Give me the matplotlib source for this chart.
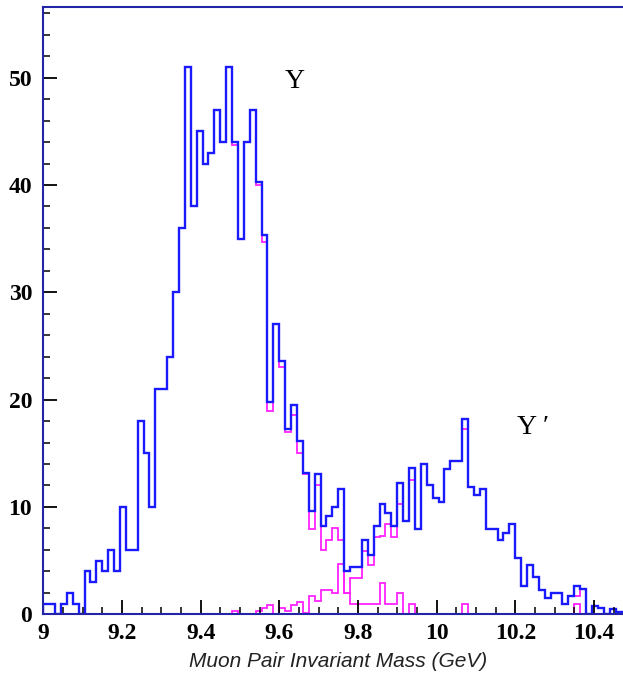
import matplotlib

matplotlib.use("Agg")
import matplotlib.pyplot as plt
import numpy as np
from matplotlib.ticker import MultipleLocator

# 100 bins of 15 MeV from 9.0 to 10.5 GeV
bin_lo, bin_hi, n_bins = 9.0, 10.5, 100

# blue: all muon pairs
total = [
    1, 1, 0, 1, 2, 1, 0, 4, 3, 5,
    4, 6, 4, 10, 6, 6, 18, 15, 10, 21,
    21, 24, 30, 36, 51, 38, 45, 42, 43, 47,
    44, 51, 44, 35, 44, 47, 40.3, 35.3, 19.8, 27,
    23.6, 17.3, 19.5, 16.1, 13.2, 9.6, 13.1, 8.2, 9.2, 10.0,
    11.7, 4.0, 4.4, 4.4, 6.9, 5.5, 8.2, 10.3, 9.4, 8.2,
    12.2, 8.7, 13.6, 7.9, 14.0, 12.0, 10.8, 10.5, 13.5, 14.3,
    14.3, 18.2, 11.9, 11.1, 11.7, 7.9, 7.9, 6.9, 7.6, 8.4,
    5.2, 2.6, 4.6, 3.5, 2.3, 1.5, 2.0, 2.0, 1.0, 1.7,
    2.6, 2.4, 0, 0.8, 0.6, 0, 0.5, 0.25, 0.25, 0,
]

# magenta: Upsilon(1S) component
ups1s = [
    1, 1, 0, 1, 2, 1, 0, 4, 3, 5,
    4, 6, 4, 10, 6, 6, 18, 15, 10, 21,
    21, 24, 30, 36, 51, 38, 45, 42, 43, 47,
    44, 51, 43.7, 35, 44, 47, 40, 34.7, 18.9, 27,
    23, 17, 18.6, 15, 13.1, 7.9, 12, 6, 6.9, 8,
    6.9, 2, 1, 1, 1, 1, 1, 2.95, 1, 1,
    1.96, 0, 0.96, 0, 0, 0, 0, 0, 0, 0,
    0, 0.96, 0, 0, 0, 0, 0, 0, 0, 0,
    0, 0, 0, 0, 0, 0, 0, 0, 0, 0,
    0.96, 0, 0, 0, 0, 0, 0, 0, 0, 0,
]

# magenta: Upsilon(2S) component
ups2s = [
    0, 0, 0, 0, 0, 0, 0, 0, 0, 0,
    0, 0, 0, 0, 0, 0, 0, 0, 0, 0,
    0, 0, 0, 0, 0, 0, 0, 0, 0, 0,
    0, 0, 0.3, 0, 0, 0, 0.3, 0.6, 0.87, 0,
    0.56, 0.3, 0.9, 1.1, 0.15, 1.7, 1.2, 2.3, 2.3, 2.0,
    4.7, 2.0, 3.4, 3.4, 5.9, 4.6, 7.2, 7.3, 8.4, 7.2,
    10.3, 8.7, 12.5, 7.9, 14.0, 12.0, 10.8, 10.5, 13.5, 14.3,
    14.3, 17.3, 11.9, 11.1, 11.7, 7.9, 7.9, 6.9, 7.6, 8.4,
    5.2, 2.6, 4.6, 3.5, 2.3, 1.5, 2.0, 2.0, 1.0, 1.7,
    1.7, 2.4, 0, 0.8, 0.6, 0, 0.5, 0.25, 0.25, 0,
]

edges = np.linspace(bin_lo, bin_hi, n_bins + 1)

FRAME = "#2424a8"
BLUE = "#1a1aff"
MAGENTA = "#ff22ff"

fig = plt.figure(figsize=(6.23, 6.81), dpi=100)
# right edge of the frame runs off the picture, as in the scan
ax = fig.add_axes([0.0695, 0.098, 0.947, 0.892])

ax.stairs(ups1s, edges, color=MAGENTA, lw=1.3)
ax.stairs(ups2s, edges, color=MAGENTA, lw=1.3)
ax.stairs(total, edges, color=BLUE, lw=1.7)

ax.set_xlim(bin_lo, bin_hi)
ax.set_ylim(0, 56.6)

ax.xaxis.set_major_locator(MultipleLocator(0.2))
ax.xaxis.set_minor_locator(MultipleLocator(0.05))
ax.yaxis.set_major_locator(MultipleLocator(10))
ax.yaxis.set_minor_locator(MultipleLocator(2))
ax.tick_params(which="both", direction="in", top=False, right=False, color="black")
ax.tick_params(which="major", length=10, width=1.3)
ax.tick_params(which="minor", length=5, width=1.1)
ax.tick_params(axis="x", which="major", pad=6)
ax.tick_params(axis="y", which="major", pad=8)
ax.set_xticks(np.arange(9.0, 10.41, 0.2))
ax.set_xticklabels(["9", "9.2", "9.4", "9.6", "9.8", "10", "10.2", "10.4"])

for lab in ax.get_xticklabels() + ax.get_yticklabels():
    lab.set_family("Liberation Serif")
    lab.set_fontweight("bold")
    lab.set_fontsize(17)

for side in ("left", "bottom", "top", "right"):
    ax.spines[side].set_color(FRAME)
    ax.spines[side].set_linewidth(1.5)

ax.set_xlabel("Muon Pair Invariant Mass (GeV)", family="Liberation Sans",
              style="italic", fontsize=15, color="#222222", labelpad=6)

ax.text(9.64, 49.6, "Υ", family=["Liberation Serif", "DejaVu Serif"],
        fontsize=20, ha="center", va="center")
ax.text(10.245, 17.4, "Υ ′", family=["Liberation Serif", "DejaVu Serif"],
        fontsize=20, ha="center", va="center")

fig.savefig("out.png", dpi=100)
